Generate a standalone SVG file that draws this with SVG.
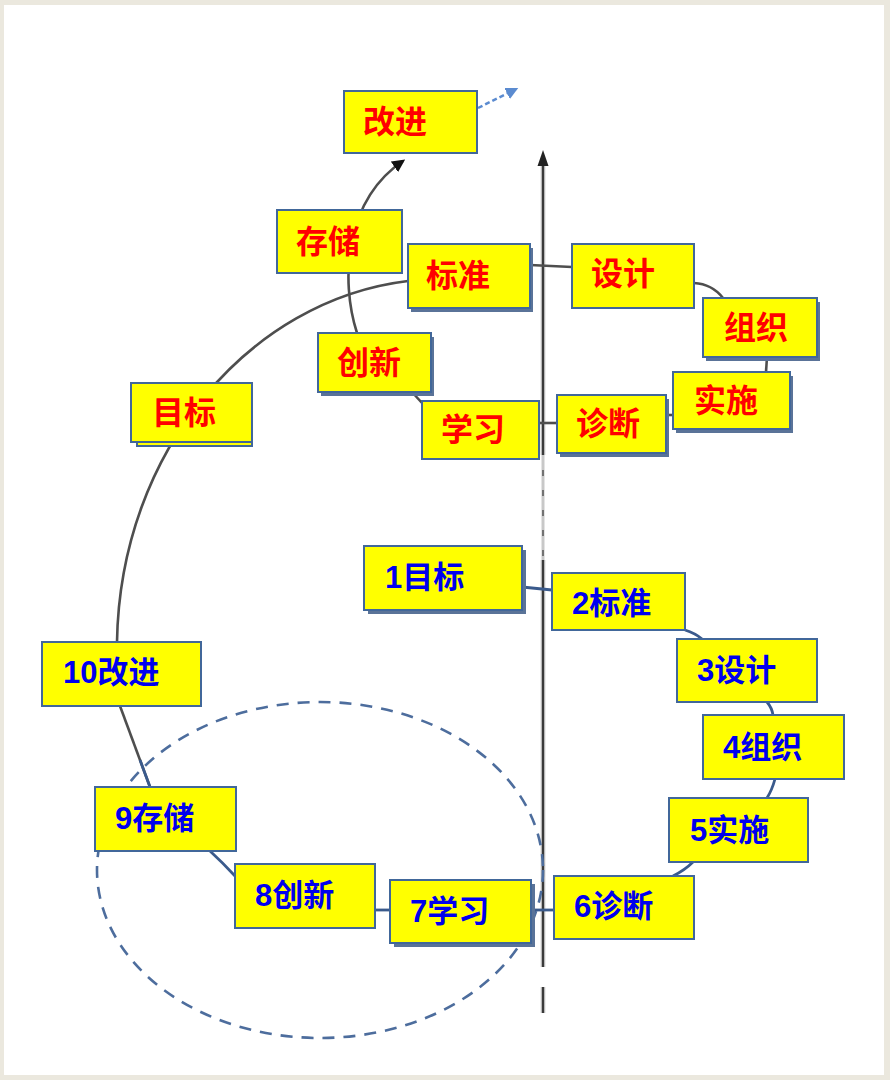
<svg xmlns="http://www.w3.org/2000/svg" width="890" height="1080" viewBox="0 0 890 1080">
<defs>
<style>
.box{fill:#ffff00;stroke:#41679a;stroke-width:2}
.sh{fill:#5a7398}
.red{fill:#ff0000;font-family:"Liberation Sans","Noto Sans CJK SC",sans-serif;font-size:32px;font-weight:bold}
.blue{fill:#0000ee;font-family:"Liberation Sans","Noto Sans CJK SC",sans-serif;font-size:31px;font-weight:bold}
.g{fill:none;stroke:#4e4e4e;stroke-width:2.6}
.b{fill:none;stroke:#3a5a8c;stroke-width:2.8}
.axis-bg{stroke:#b8b8b8;stroke-width:4.5}
.axis{stroke:#3a3a3a;stroke-width:2}
.ell{fill:none;stroke:#4d6d9d;stroke-width:2.6;stroke-dasharray:12 9}
</style>
<marker id="ah" viewBox="0 0 10 10" refX="8" refY="5" markerWidth="5" markerHeight="5" orient="auto" markerUnits="strokeWidth">
<path d="M0,0 L10,5 L0,10 z" fill="#111"/>
</marker>
<marker id="ahb" viewBox="0 0 10 10" refX="8" refY="5" markerWidth="5" markerHeight="5" orient="auto" markerUnits="strokeWidth">
<path d="M0,0 L10,5 L0,10 z" fill="#5b8bd0"/>
</marker>
</defs>
<rect x="0" y="0" width="890" height="1080" fill="#ebe8de"/>
<rect x="4" y="5" width="880" height="1070" fill="#ffffff"/>

<g id="axis">
<line class="axis-bg" x1="543" y1="165" x2="543" y2="455"/>
<line class="axis" x1="543" y1="165" x2="543" y2="455"/>
<line stroke="#c8c8c8" stroke-width="3" x1="543" y1="455" x2="543" y2="560"/>
<line stroke="#555" stroke-width="1.5" stroke-dasharray="6 14" x1="543" y1="470" x2="543" y2="560"/>
<line class="axis-bg" x1="543" y1="560" x2="543" y2="967"/>
<line class="axis" x1="543" y1="560" x2="543" y2="967"/>
<line class="axis-bg" x1="543" y1="987" x2="543" y2="1013"/>
<line class="axis" x1="543" y1="987" x2="543" y2="1013"/>
<polygon points="543,150 537.5,166 548.5,166" fill="#222"/>
</g>

<ellipse id="cycle-ellipse" class="ell" cx="320" cy="870" rx="223" ry="168"/>

<g id="connectors">
<path class="g" d="M408,281 C250,300 120,450 117,642"/>
<path class="g" d="M530,265 L572,267"/>
<path class="g" d="M694,283 Q712,284 723,298"/>
<path class="g" d="M767,357 L766,372"/>
<path class="g" d="M666,415 L673,415"/>
<path class="g" d="M539,423 L557,423"/>
<path class="g" d="M422,403 L412,392"/>
<path class="g" d="M357,333 C340,280 345,200 403,161" marker-end="url(#ah)"/>
<path fill="none" stroke="#5b8bd0" stroke-width="2.5" stroke-dasharray="5 3" d="M478,108 L516,89" marker-end="url(#ahb)"/>
<path class="g" d="M120,706 L150,787"/>
<path class="b" d="M140,760 L150,787"/>
<path class="b" d="M210,851 Q222,862 235,876"/>
<path class="b" d="M375,910 L390,910"/>
<path class="b" d="M531,910 L554,910"/>
<path class="b" d="M693,862 Q685,870 673,876"/>
<path class="b" d="M775,779 Q772,790 767,798"/>
<path class="b" d="M767,702 Q772,708 773,715"/>
<path class="b" d="M685,630 Q695,633 702,639"/>
<path class="b" d="M522,587 L552,590"/>
</g>

<g id="n-gaijin">
<rect class="box" x="344" y="91" width="133" height="62"/>
<text class="red" x="363" y="122" dominant-baseline="central">改进</text>
</g>
<g id="n-cunchu">
<rect class="box" x="277" y="210" width="125" height="63"/>
<text class="red" x="296" y="242" dominant-baseline="central">存储</text>
</g>
<g id="n-biaozhun">
<rect class="sh" x="411" y="248" width="122" height="64"/>
<rect class="box" x="408" y="244" width="122" height="64"/>
<text class="red" x="426" y="276" dominant-baseline="central">标准</text>
</g>
<g id="n-chuangxin">
<rect class="sh" x="321" y="337" width="113" height="59"/>
<rect class="box" x="318" y="333" width="113" height="59"/>
<text class="red" x="337" y="363" dominant-baseline="central">创新</text>
</g>
<g id="n-sheji">
<rect class="box" x="572" y="244" width="122" height="64"/>
<text class="red" x="591" y="274" dominant-baseline="central">设计</text>
</g>
<g id="n-zuzhi">
<rect class="sh" x="706" y="302" width="114" height="59"/>
<rect class="box" x="703" y="298" width="114" height="59"/>
<text class="red" x="724" y="328" dominant-baseline="central">组织</text>
</g>
<g id="n-shishi">
<rect class="sh" x="676" y="376" width="117" height="57"/>
<rect class="box" x="673" y="372" width="117" height="57"/>
<text class="red" x="694" y="401" dominant-baseline="central">实施</text>
</g>
<g id="n-zhenduan">
<rect class="sh" x="560" y="399" width="109" height="58"/>
<rect class="box" x="557" y="395" width="109" height="58"/>
<text class="red" x="576" y="424" dominant-baseline="central">诊断</text>
</g>
<g id="n-xuexi">
<rect class="box" x="422" y="401" width="117" height="58"/>
<text class="red" x="441" y="430" dominant-baseline="central">学习</text>
</g>
<g id="n-mubiao">
<rect class="box" x="137" y="388" width="115" height="58"/>
<rect class="box" x="131" y="383" width="121" height="59"/>
<text class="red" x="152" y="413" dominant-baseline="central">目标</text>
</g>

<g id="n-1">
<rect class="sh" x="368" y="550" width="158" height="64"/>
<rect class="box" x="364" y="546" width="158" height="64"/>
<text class="blue" x="385" y="577" dominant-baseline="central">1目标</text>
</g>
<g id="n-2">
<rect class="box" x="552" y="573" width="133" height="57"/>
<text class="blue" x="572" y="603" dominant-baseline="central">2标准</text>
</g>
<g id="n-3">
<rect class="box" x="677" y="639" width="140" height="63"/>
<text class="blue" x="697" y="670" dominant-baseline="central">3设计</text>
</g>
<g id="n-4">
<rect class="box" x="703" y="715" width="141" height="64"/>
<text class="blue" x="723" y="747" dominant-baseline="central">4组织</text>
</g>
<g id="n-5">
<rect class="box" x="669" y="798" width="139" height="64"/>
<text class="blue" x="690" y="830" dominant-baseline="central">5实施</text>
</g>
<g id="n-6">
<rect class="box" x="554" y="876" width="140" height="63"/>
<text class="blue" x="574" y="906" dominant-baseline="central">6诊断</text>
</g>
<g id="n-7">
<rect class="sh" x="394" y="884" width="141" height="63"/>
<rect class="box" x="390" y="880" width="141" height="63"/>
<text class="blue" x="410" y="911" dominant-baseline="central">7学习</text>
</g>
<g id="n-8">
<rect class="box" x="235" y="864" width="140" height="64"/>
<text class="blue" x="255" y="895" dominant-baseline="central">8创新</text>
</g>
<g id="n-9">
<rect class="box" x="95" y="787" width="141" height="64"/>
<text class="blue" x="115" y="818" dominant-baseline="central">9存储</text>
</g>
<g id="n-10">
<rect class="box" x="42" y="642" width="159" height="64"/>
<text class="blue" x="63" y="672" dominant-baseline="central">10改进</text>
</g>
</svg>
